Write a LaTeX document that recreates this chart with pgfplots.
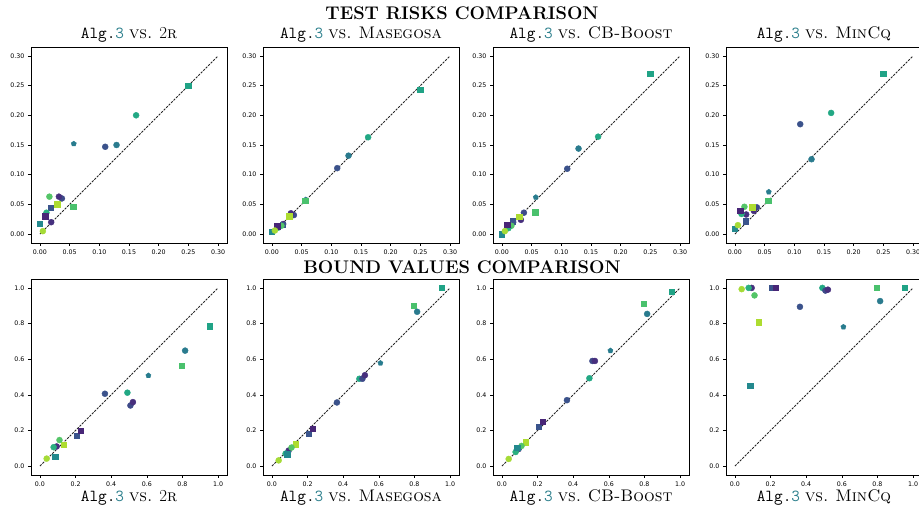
\documentclass[border=0pt]{standalone}
\usepackage{fontspec}
\usepackage{pgfplots}
\usepackage{pgfplotstable}
\pgfplotsset{compat=1.18}
\newfontfamily\dejavu{DejaVu Sans}

\definecolor{algteal}{HTML}{2B7F8C}
\definecolor{c1}{HTML}{20A386}
\definecolor{c2}{HTML}{22A884}
\definecolor{c3}{HTML}{2A7B8E}
\definecolor{c4}{HTML}{3B528B}
\definecolor{c5}{HTML}{287C8E}
\definecolor{c6}{HTML}{4AC16D}
\definecolor{c7}{HTML}{3E4A89}
\definecolor{c8}{HTML}{472F7D}
\definecolor{c9}{HTML}{ADDC30}
\definecolor{c10}{HTML}{46307E}
\definecolor{c11}{HTML}{3A548C}
\definecolor{c12}{HTML}{54C568}
\definecolor{c13}{HTML}{2AB07F}
\definecolor{c14}{HTML}{482677}
\definecolor{c15}{HTML}{23898E}
\definecolor{c16}{HTML}{A5DB36}

% test risks: x = Alg.3, then the four competitors
\pgfplotstableread{
cls x r2 mas cb mcq
a 0.250 0.250 0.243 0.270 0.270
b 0.162 0.200 0.163 0.164 0.204
c 0.129 0.150 0.132 0.144 0.126
d 0.110 0.147 0.111 0.110 0.185
e 0.057 0.152 0.058 0.062 0.071
f 0.056 0.046 0.056 0.037 0.056
g 0.037 0.060 0.032 0.036 0.045
h 0.032 0.063 0.035 0.024 0.039
i 0.029 0.050 0.030 0.029 0.045
j 0.019 0.020 0.017 0.020 0.033
k 0.018 0.044 0.016 0.022 0.022
l 0.016 0.063 0.014 0.014 0.046
m 0.011 0.036 0.011 0.010 0.034
n 0.009 0.030 0.013 0.016 0.039
o 0.000 0.017 0.004 0.000 0.009
p 0.005 0.005 0.006 0.005 0.015
}\risks

% bound values
\pgfplotstableread{
cls x r2 mas cb mcq
a 0.954 0.785 1.000 0.979 1.000
b 0.491 0.412 0.490 0.493 1.000
c 0.815 0.648 0.866 0.854 0.926
d 0.365 0.406 0.357 0.370 0.894
e 0.609 0.508 0.578 0.648 0.781
f 0.797 0.563 0.900 0.911 1.000
g 0.508 0.340 0.490 0.590 0.985
h 0.522 0.359 0.510 0.590 0.990
i 0.133 0.121 0.123 0.134 0.807
j 0.094 0.110 0.087 0.096 1.000
k 0.205 0.172 0.181 0.221 1.000
l 0.110 0.146 0.104 0.113 0.958
m 0.077 0.106 0.070 0.079 1.000
n 0.228 0.198 0.210 0.248 1.000
o 0.085 0.053 0.066 0.104 0.450
p 0.038 0.042 0.032 0.040 0.993
}\bounds

\pgfplotsset{
  panel/.style={scale only axis, width=196pt, height=196pt, anchor=south west,
    axis line style={line width=0.8pt}, tick pos=left, tick align=outside,
    major tick length=3pt, tick style={line width=0.6pt, black},
    ticklabel style={font=\dejavu\fontsize{6.3}{7}\selectfont},
    /pgf/number format/assume math mode=true,
    /pgf/number format/fixed, /pgf/number format/fixed zerofill},
  risk/.style={panel, xmin=-0.015, xmax=0.315, ymin=-0.015, ymax=0.315,
    xtick={0,0.05,0.1,0.15,0.2,0.25,0.3}, ytick={0,0.05,0.1,0.15,0.2,0.25,0.3},
    /pgf/number format/precision=2},
  bound/.style={panel, xmin=-0.05, xmax=1.05, ymin=-0.05, ymax=1.05,
    xtick={0,0.2,0.4,0.6,0.8,1}, ytick={0,0.2,0.4,0.6,0.8,1},
    /pgf/number format/precision=1},
  diag/.style={black!85, line width=0.9pt, dash pattern=on 2.3pt off 1.2pt},
  dsets/.style={scatter, only marks, scatter src=explicit symbolic,
    scatter/classes={
      a={mark=square*, mark size=2.7pt, draw=c1, fill=c1},
      b={mark=*, mark size=3pt, draw=c2, fill=c2},
      c={mark=*, mark size=3pt, draw=c3, fill=c3},
      d={mark=*, mark size=3pt, draw=c4, fill=c4},
      e={mark=pentagon*, mark size=2.7pt, draw=c5, fill=c5},
      f={mark=square*, mark size=2.7pt, draw=c6, fill=c6},
      g={mark=*, mark size=3pt, draw=c7, fill=c7},
      h={mark=*, mark size=3pt, draw=c8, fill=c8},
      i={mark=square*, mark size=2.7pt, draw=c9, fill=c9},
      j={mark=*, mark size=3pt, draw=c10, fill=c10},
      k={mark=square*, mark size=2.7pt, draw=c11, fill=c11},
      l={mark=*, mark size=3pt, draw=c12, fill=c12},
      m={mark=*, mark size=3pt, draw=c13, fill=c13},
      n={mark=square*, mark size=2.7pt, draw=c14, fill=c14},
      o={mark=square*, mark size=2.7pt, draw=c15, fill=c15},
      p={mark=*, mark size=3pt, draw=c16, fill=c16}}}
}

\newcommand{\alg}{\texttt{Alg.}{\color{algteal}\texttt{3}} \textsc{vs.}}
\newcommand{\ttl}{\fontsize{16.8}{19}\selectfont}
\newcommand{\bigttl}{\bfseries\fontsize{18.3}{20}\selectfont}

\begin{document}
\begin{tikzpicture}
% top row: test risks
\begin{axis}[risk, at={(31pt,270pt)}]
  \addplot[diag] coordinates {(0,0) (0.3,0.3)};
  \addplot[dsets] table[x=x, y=r2, meta=cls] {\risks};
\end{axis}
\begin{axis}[risk, at={(263pt,270pt)}]
  \addplot[diag] coordinates {(0,0) (0.3,0.3)};
  \addplot[dsets] table[x=x, y=mas, meta=cls] {\risks};
\end{axis}
\begin{axis}[risk, at={(493pt,270pt)}]
  \addplot[diag] coordinates {(0,0) (0.3,0.3)};
  \addplot[dsets] table[x=x, y=cb, meta=cls] {\risks};
\end{axis}
\begin{axis}[risk, at={(726pt,270pt)}]
  \addplot[diag] coordinates {(0,0) (0.3,0.3)};
  \addplot[dsets] table[x=x, y=mcq, meta=cls] {\risks};
\end{axis}
% bottom row: bound values
\begin{axis}[bound, at={(31pt,38pt)}]
  \addplot[diag] coordinates {(0,0) (1,1)};
  \addplot[dsets] table[x=x, y=r2, meta=cls] {\bounds};
\end{axis}
\begin{axis}[bound, at={(263pt,38pt)}]
  \addplot[diag] coordinates {(0,0) (1,1)};
  \addplot[dsets] table[x=x, y=mas, meta=cls] {\bounds};
\end{axis}
\begin{axis}[bound, at={(493pt,38pt)}]
  \addplot[diag] coordinates {(0,0) (1,1)};
  \addplot[dsets] table[x=x, y=cb, meta=cls] {\bounds};
\end{axis}
\begin{axis}[bound, at={(726pt,38pt)}]
  \addplot[diag] coordinates {(0,0) (1,1)};
  \addplot[dsets] table[x=x, y=mcq, meta=cls] {\bounds};
\end{axis}
% titles
\node[anchor=base, font=\bigttl] at (462pt,493.7pt) {TEST RISKS COMPARISON};
\node[anchor=base, font=\bigttl] at (462pt,239.7pt) {BOUND VALUES COMPARISON};
\node[anchor=base, font=\ttl] at (129pt,474.7pt) {\alg{} 2\textsc{r}};
\node[anchor=base, font=\ttl] at (361pt,474.7pt) {\alg{} \textsc{Masegosa}};
\node[anchor=base, font=\ttl] at (591pt,474.7pt) {\alg{} \textsc{CB-Boost}};
\node[anchor=base, font=\ttl] at (824pt,474.7pt) {\alg{} \textsc{MinCq}};
\node[anchor=base, font=\ttl] at (129pt,11.5pt) {\alg{} 2\textsc{r}};
\node[anchor=base, font=\ttl] at (361pt,11.5pt) {\alg{} \textsc{Masegosa}};
\node[anchor=base, font=\ttl] at (591pt,11.5pt) {\alg{} \textsc{CB-Boost}};
\node[anchor=base, font=\ttl] at (824pt,11.5pt) {\alg{} \textsc{MinCq}};
\pgfresetboundingbox
\path[use as bounding box] (0,0) rectangle (919pt,513pt);
\end{tikzpicture}
\end{document}
